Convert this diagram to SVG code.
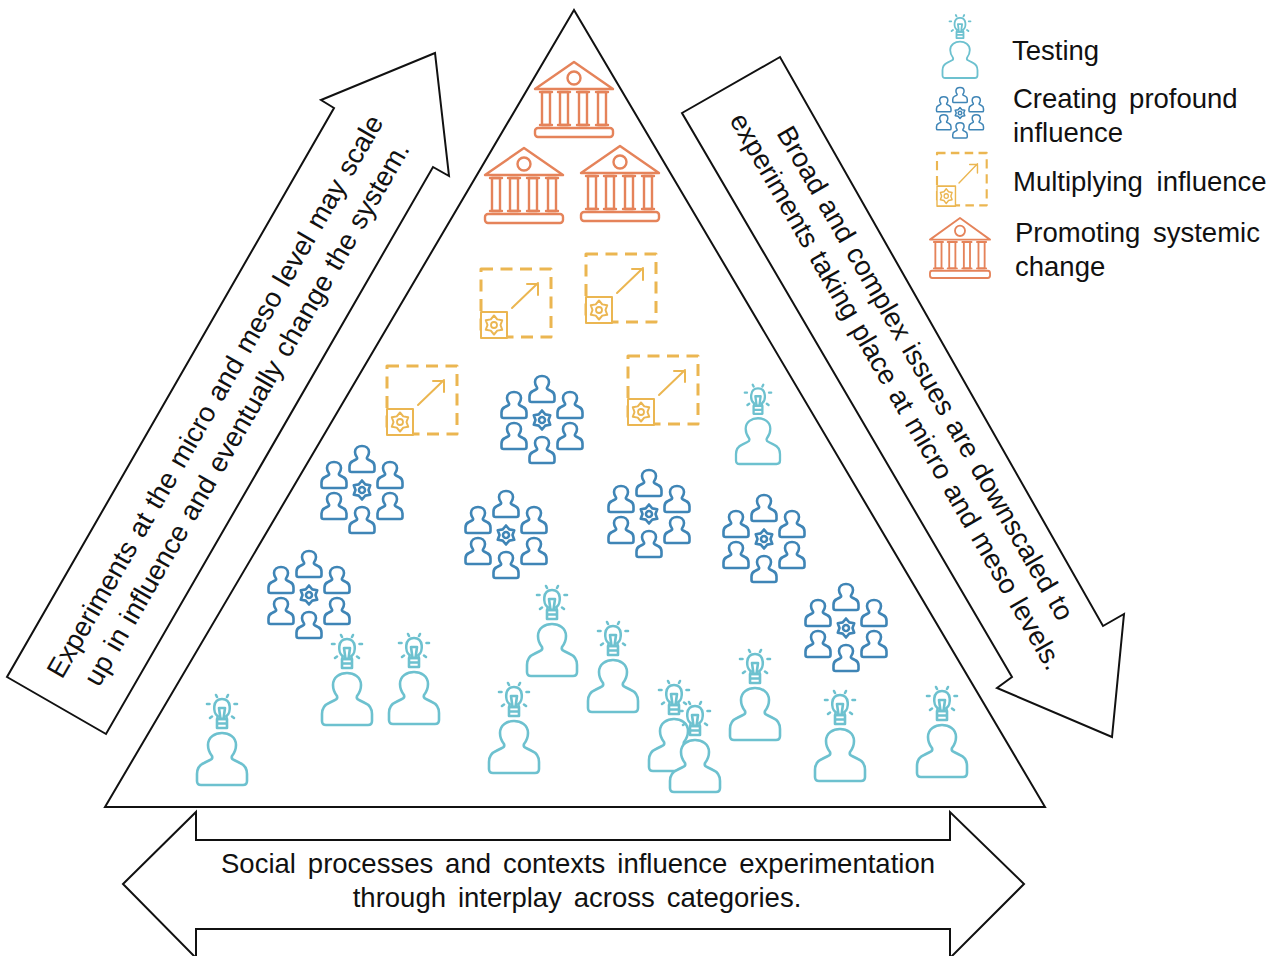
<svg xmlns="http://www.w3.org/2000/svg" width="1278" height="956" viewBox="0 0 1278 956">
<style>
text{font-family:"Liberation Sans",Arial,sans-serif;font-size:27.5px;fill:#111}
.o{fill:#fff;stroke:#111;stroke-width:2}
.ic{fill:#fff;stroke-linejoin:round;stroke-linecap:round}
.teal{stroke:#6dc1cf;stroke-width:2.6}
.blue{stroke:#3f85b6;stroke-width:2.6}
.yel{stroke:#ebb651;stroke-width:2.4}
.ora{stroke:#e5835a;stroke-width:2.4}
</style>
<defs>
<path id="pp" d="M-25,-4Q-25,0 -21,0H21Q25,0 25,-4V-11Q25,-19 18,-22L12,-25Q9,-26 10,-29Q14,-34 14,-40C14,-48 7,-52 0,-52C-7,-52 -14,-48 -14,-40Q-14,-34 -10,-29Q-9,-26 -12,-25L-18,-22Q-25,-19 -25,-11Z"/>
<polygon id="gear" points="0,-9.5 3.25,-5.63 8.23,-4.75 6.5,0 8.23,4.75 3.25,5.63 0,9.5 -3.25,5.63 -8.23,4.75 -6.5,0 -8.23,-4.75 -3.25,-5.63"/>
<g id="tester" class="ic teal">
<use href="#pp"/>
<g transform="translate(0,-72)">
<path d="M-4.5,6V3C-9,0 -10,-14 0,-14C10,-14 9,0 4.5,3V6ZM-3,-5H3L1.5,6M-3,-5L-1.5,6"/>
<path d="M-5,6H5V15H-5ZM-5,10.500H5M-6,-18L-5,-16M6,-18L5,-16M-15,-9H-12.500M15,-9H12.500M-12,5L-10,3.500M12,5L10,3.500" fill="none"/>
</g>
</g>
<g id="cluster" class="ic blue">
<g stroke-width="5.2">
<use href="#pp" transform="translate(0,-18) scale(.5)"/>
<use href="#pp" transform="translate(-28,-2) scale(.5)"/>
<use href="#pp" transform="translate(28,-2) scale(.5)"/>
<use href="#pp" transform="translate(-28,29) scale(.5)"/>
<use href="#pp" transform="translate(28,29) scale(.5)"/>
<use href="#pp" transform="translate(0,43) scale(.5)"/>
</g>
<use href="#gear"/><circle r="3"/>
</g>
<g id="mult" class="ic yel">
<rect width="70" height="68" fill="none" stroke-width="3" stroke-dasharray="12 7.5" stroke-linecap="butt"/>
<rect y="43" width="26" height="26" stroke-width="2"/>
<use href="#gear" transform="translate(13,56)" stroke-width="2"/><circle cx="13" cy="56" r="3" stroke-width="1.8"/>
<path d="M31,39L57,14M46,15H57V26" fill="none" stroke-width="2"/>
</g>
<g id="temple" class="ic ora">
<path d="M0,0L39,27H-39Z"/><circle cy="16" r="6.5"/>
<path d="M-32,30H-24V63H-32ZM-14,30H-6V63H-14ZM5,30H13V63H5ZM24,30H32V63H24Z"/>
<path d="M-34,30H-22M-16,30H-4M3,30H15M22,30H34M-34,63H-22M-16,63H-4M3,63H15M22,63H34" fill="none"/>
<rect x="-39" y="66" width="78" height="9" rx="3"/>
</g>
</defs>

<g id="connectors">
<polygon id="scale-up-arrow" class="o" points="7,677 106,734 433,167 449,176 435,53 321,100 334,108"/>
<polygon id="downscale-arrow" class="o" points="780,57 682,113 1012,677 997,688 1112,737 1124,614 1103,626"/>
<polygon id="interplay-arrow" class="o" points="123,884 196,812 196,840 950,840 950,812 1024,884 950,958 950,929 196,929 196,958"/>
<polygon id="pyramid" class="o" points="574,10 105,807 1045,807"/>
</g>

<g id="arrow-labels">
<text transform="translate(62,680) rotate(-60)" word-spacing="2">Experiments at the micro and meso level may scale</text>
<text transform="translate(99,688) rotate(-60)" word-spacing="2">up in influence and eventually change the system.</text>
<text transform="translate(776,133) rotate(60)" word-spacing="2">Broad and complex issues are downscaled to</text>
<text transform="translate(729,120) rotate(60)" word-spacing="2">experiments taking place at micro and meso levels.</text>
<text x="578" y="873" text-anchor="middle" word-spacing="4.3">Social processes and contexts influence experimentation</text>
<text x="577" y="907" text-anchor="middle" word-spacing="4.3">through interplay across categories.</text>
</g>

<g id="temple-1"><use href="#temple" x="574" y="62"/></g>
<g id="temple-2"><use href="#temple" x="524" y="148"/></g>
<g id="temple-3"><use href="#temple" x="620" y="146"/></g>

<g id="mult-1"><use href="#mult" x="481" y="269"/></g>
<g id="mult-2"><use href="#mult" x="586" y="254"/></g>
<g id="mult-3"><use href="#mult" x="387" y="366"/></g>
<g id="mult-4"><use href="#mult" x="628" y="356"/></g>

<g id="cluster-1"><use href="#cluster" x="542" y="420"/></g>
<g id="cluster-2"><use href="#cluster" x="362" y="490"/></g>
<g id="cluster-3"><use href="#cluster" x="506" y="535"/></g>
<g id="cluster-4"><use href="#cluster" x="649" y="514"/></g>
<g id="cluster-5"><use href="#cluster" x="764" y="539"/></g>
<g id="cluster-6"><use href="#cluster" x="309" y="595"/></g>
<g id="cluster-7"><use href="#cluster" x="846" y="628"/></g>

<g id="tester-1"><use href="#tester" transform="translate(758,464) scale(.88)"/></g>
<g id="tester-2"><use href="#tester" x="222" y="785"/></g>
<g id="tester-3"><use href="#tester" x="347" y="725"/></g>
<g id="tester-4"><use href="#tester" x="414" y="724"/></g>
<g id="tester-5"><use href="#tester" x="552" y="676"/></g>
<g id="tester-6"><use href="#tester" x="613" y="712"/></g>
<g id="tester-7"><use href="#tester" x="514" y="773"/></g>
<g id="tester-8"><use href="#tester" x="674" y="771"/></g>
<g id="tester-9"><use href="#tester" x="695" y="792"/></g>
<g id="tester-10"><use href="#tester" x="755" y="740"/></g>
<g id="tester-11"><use href="#tester" x="840" y="781"/></g>
<g id="tester-12"><use href="#tester" x="942" y="777"/></g>

<g id="legend">
<g id="legend-testing"><use href="#tester" transform="translate(960,78) scale(.7)"/><text x="1012" y="60">Testing</text></g>
<g id="legend-profound"><use href="#cluster" transform="translate(960,113) scale(.58)"/><text x="1013" y="108" word-spacing="4.5">Creating profound</text><text x="1013" y="142">influence</text></g>
<g id="legend-multiplying"><use href="#mult" transform="translate(937,153) scale(.71 .77)"/><text x="1013" y="191" word-spacing="6">Multiplying influence</text></g>
<g id="legend-promoting"><use href="#temple" transform="translate(960,218) scale(.77 .8)"/><text x="1015" y="242" word-spacing="5">Promoting systemic</text><text x="1015" y="276">change</text></g>
</g>
</svg>
